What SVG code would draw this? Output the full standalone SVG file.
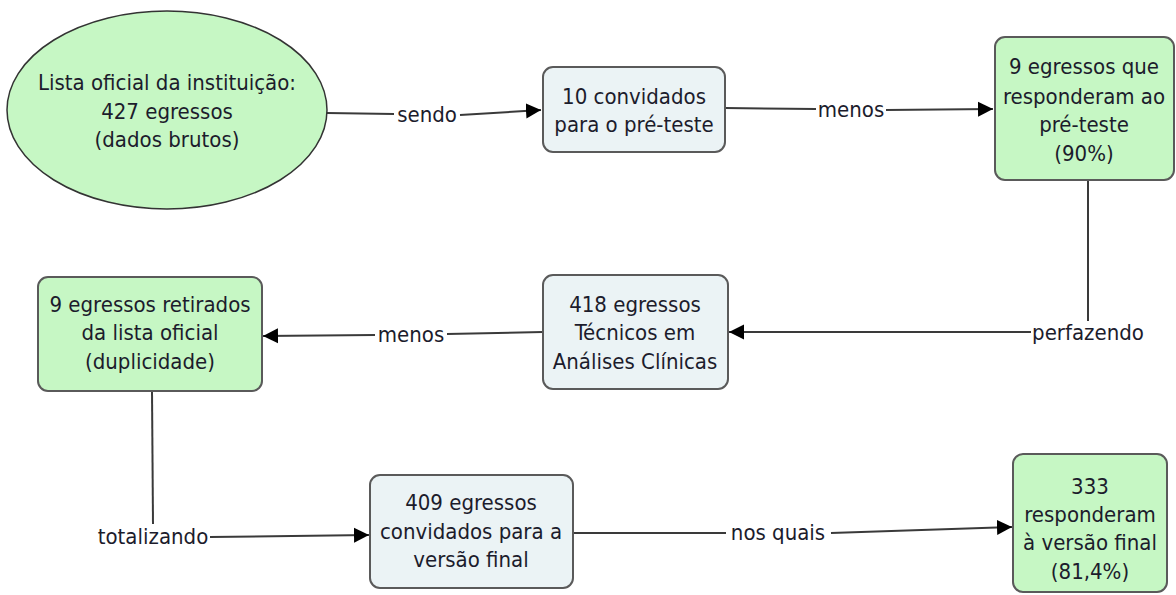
<svg xmlns="http://www.w3.org/2000/svg" width="1176" height="595" viewBox="0 0 1176 595">
<style>
  .t { font-family: "DejaVu Sans Condensed", "DejaVu Sans", sans-serif; font-stretch: condensed; font-size: 22px; fill: #1c1c2c; text-anchor: middle; }
  .blue { fill: #ebf3f5; stroke: #5a5a5a; stroke-width: 2; }
  .green { fill: #c6f7c4; stroke: #5a5a5a; stroke-width: 2; }
  .conn { fill: none; stroke: #3a3a3a; stroke-width: 2; }
</style>
<defs>
  <marker id="arr" viewBox="0 0 10 10" refX="10" refY="5" markerWidth="15" markerHeight="16" markerUnits="userSpaceOnUse" orient="auto">
    <path d="M0,0 L10,5 L0,10 z" fill="#000"/>
  </marker>
</defs>
<rect width="1176" height="595" fill="#ffffff"/>

<g id="connectors">
  <path class="conn" d="M327,113 L394,114"/>
  <path class="conn" d="M460,115 L541,110" marker-end="url(#arr)"/>
  <path class="conn" d="M725,108 L816,109"/>
  <path class="conn" d="M886,110 L993,109" marker-end="url(#arr)"/>
  <path class="conn" d="M1088,180 L1088,321"/>
  <path class="conn" d="M1031,332 L729,332" marker-end="url(#arr)"/>
  <path class="conn" d="M543,332 L447,334"/>
  <path class="conn" d="M375,335 L263,336" marker-end="url(#arr)"/>
  <path class="conn" d="M152,391 L153,524"/>
  <path class="conn" d="M210,537 L369,535" marker-end="url(#arr)"/>
  <path class="conn" d="M573,533 L726,533"/>
  <path class="conn" d="M831,533 L1012,527" marker-end="url(#arr)"/>
  <text class="t" x="427" y="122">sendo</text>
  <text class="t" x="851" y="117">menos</text>
  <text class="t" x="1088" y="340">perfazendo</text>
  <text class="t" x="411" y="342">menos</text>
  <text class="t" x="153" y="544">totalizando</text>
  <text class="t" x="778" y="540">nos quais</text>
</g>

<g id="n-lista">
  <ellipse cx="167" cy="110" rx="160" ry="99" fill="#c6f7c4" stroke="#333" stroke-width="1.5"/>
  <text class="t" x="167" y="90">Lista oficial da instituição:</text>
  <text class="t" x="167" y="119">427 egressos</text>
  <text class="t" x="167" y="147">(dados brutos)</text>
</g>

<g id="n-10conv">
  <rect class="blue" x="543" y="67" width="182" height="85" rx="10"/>
  <text class="t" x="634" y="104">10 convidados</text>
  <text class="t" x="634" y="132">para o pré-teste</text>
</g>

<g id="n-9resp">
  <rect class="green" x="995" y="37" width="179" height="143" rx="10"/>
  <text class="t" x="1084" y="74">9 egressos que</text>
  <text class="t" x="1084" y="104">responderam ao</text>
  <text class="t" x="1084" y="132">pré-teste</text>
  <text class="t" x="1084" y="161">(90%)</text>
</g>

<g id="n-418">
  <rect class="blue" x="543" y="275" width="185" height="114" rx="10"/>
  <text class="t" x="635" y="312">418 egressos</text>
  <text class="t" x="635" y="340">Técnicos em</text>
  <text class="t" x="635" y="369">Análises Clínicas</text>
</g>

<g id="n-9ret">
  <rect class="green" x="38" y="277" width="224" height="114" rx="10"/>
  <text class="t" x="150" y="312">9 egressos retirados</text>
  <text class="t" x="150" y="340">da lista oficial</text>
  <text class="t" x="150" y="369">(duplicidade)</text>
</g>

<g id="n-409">
  <rect class="blue" x="370" y="475" width="203" height="113" rx="10"/>
  <text class="t" x="471" y="510">409 egressos</text>
  <text class="t" x="471" y="539">convidados para a</text>
  <text class="t" x="471" y="567">versão final</text>
</g>

<g id="n-333">
  <rect class="green" x="1013" y="454" width="154" height="138" rx="10"/>
  <text class="t" x="1090" y="494">333</text>
  <text class="t" x="1090" y="522">responderam</text>
  <text class="t" x="1090" y="550">à versão final</text>
  <text class="t" x="1090" y="579">(81,4%)</text>
</g>
</svg>
